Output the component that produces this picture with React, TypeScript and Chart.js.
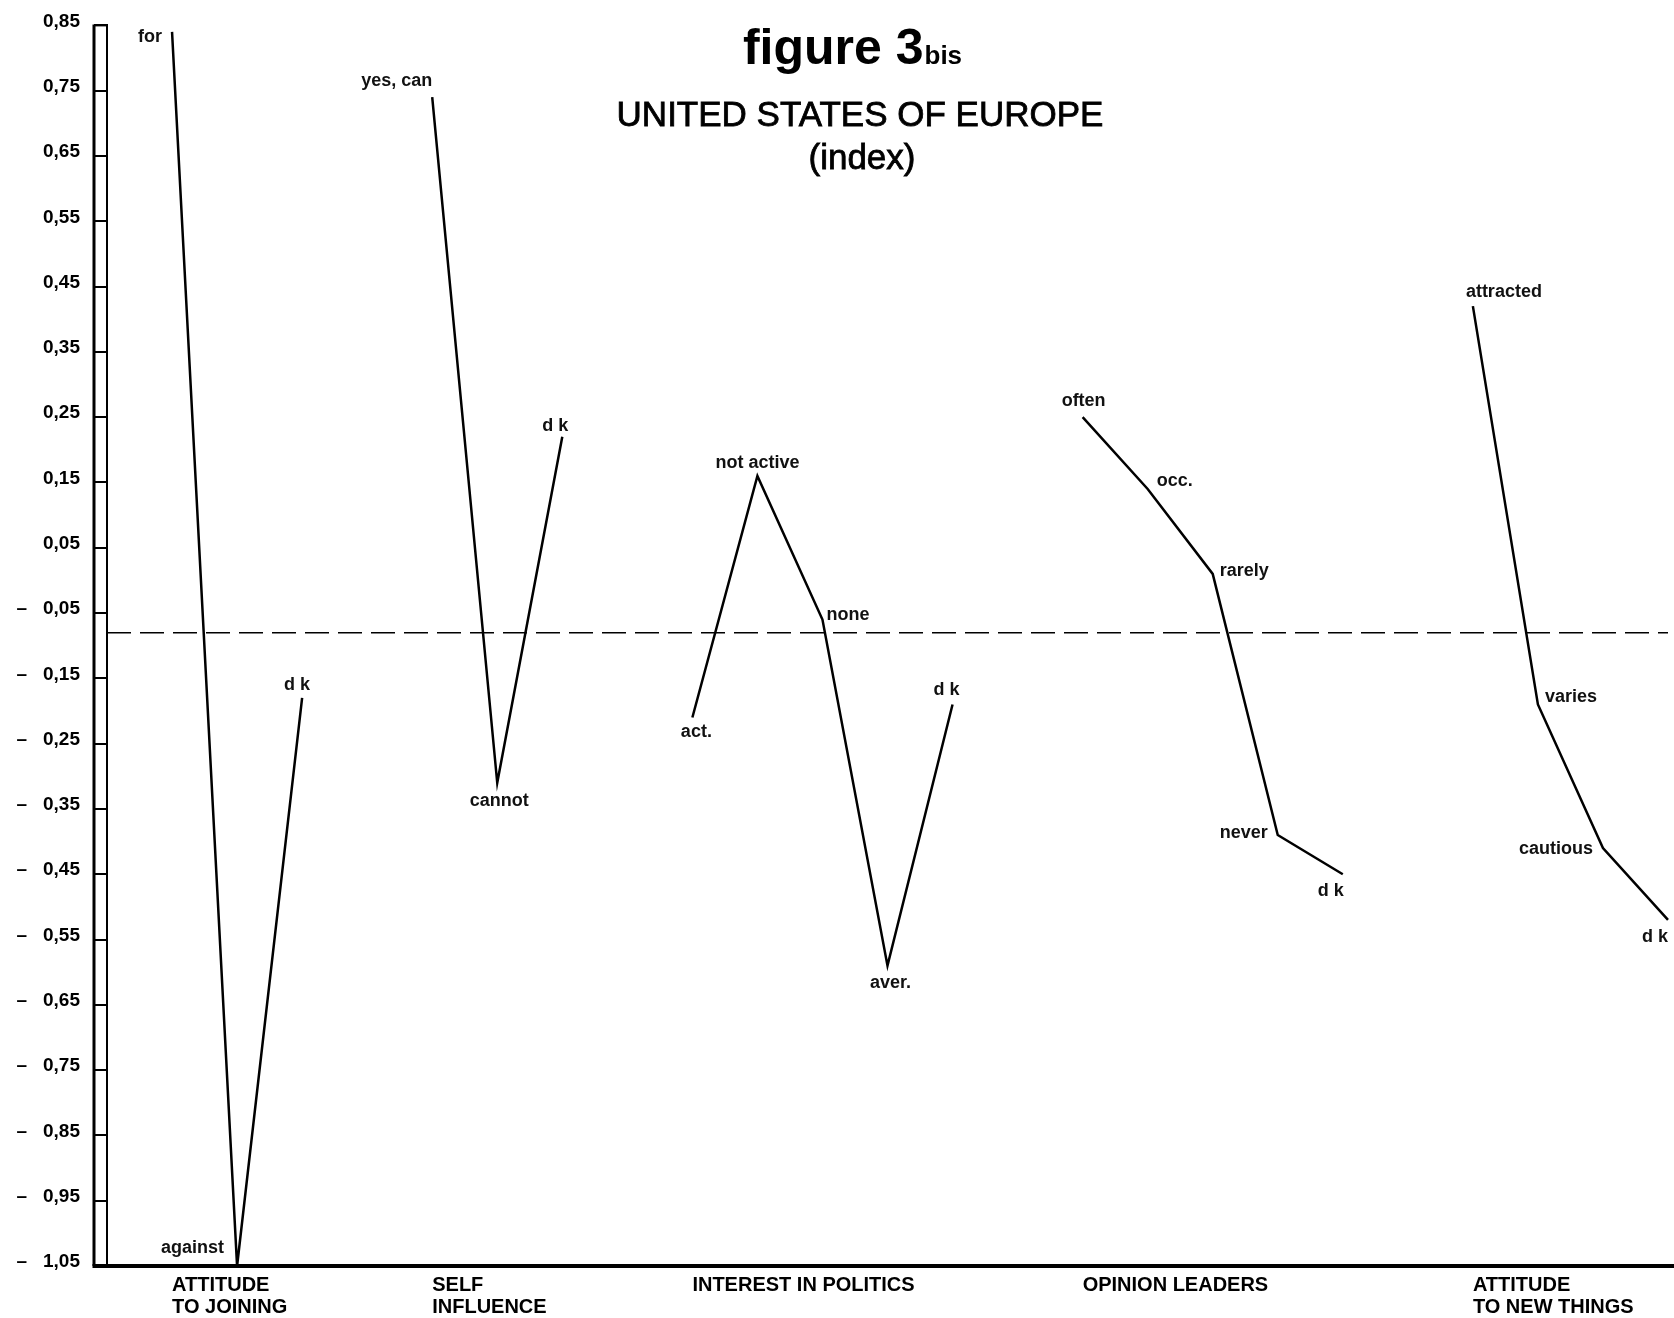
import React, { useEffect, useRef } from "react";
import { Chart, registerables } from "chart.js";

Chart.register(...registerables);

// ---------- data ----------
const yTickValues = [
  0.85, 0.75, 0.65, 0.55, 0.45, 0.35, 0.25, 0.15, 0.05, -0.05, -0.15, -0.25,
  -0.35, -0.45, -0.55, -0.65, -0.75, -0.85, -0.95, -1.05,
];

const groupNames = [
  ["ATTITUDE", "TO JOINING"],
  ["SELF", "INFLUENCE"],
  ["INTEREST IN POLITICS"],
  ["OPINION LEADERS"],
  ["ATTITUDE", "TO NEW THINGS"],
];
const groupStarts = [1, 5, 9, 15, 21];

const joiningLabels = ["for", "against", "d k"];
const joiningX = [1, 2, 3];
const joiningValues = [0.84, -1.05, -0.18];

const influenceLabels = ["yes, can", "cannot", "d k"];
const influenceX = [5, 6, 7];
const influenceValues = [0.74, -0.31, 0.22];

const politicsLabels = ["act.", "not active", "none", "aver.", "d k"];
const politicsX = [9, 10, 11, 12, 13];
const politicsValues = [-0.21, 0.16, -0.06, -0.59, -0.19];

const leadersLabels = ["often", "occ.", "rarely", "never", "d k"];
const leadersX = [15, 16, 17, 18, 19];
const leadersValues = [0.25, 0.14, 0.01, -0.39, -0.45];

const newThingsLabels = ["attracted", "varies", "cautious", "d k"];
const newThingsX = [21, 22, 23, 24];
const newThingsValues = [0.42, -0.19, -0.41, -0.52];

const referenceLevel = -0.08;
const xMin = 0;
const xMax = 24;

// ---------- styling (label placement per point: align, dx, dy) ----------
const labelPlacement: [string, number, number][][] = [
  [["right", -10, 5], ["right", -13, -18], ["center", -5, -13]],
  [["right", 0, -16], ["center", 2, 18], ["center", -7, -11]],
  [["center", 4, 15], ["center", 0, -13], ["left", 4, -5], ["center", 3, 17], ["center", -6, -14]],
  [["center", 1, -16], ["left", 9, -8], ["left", 7, -3], ["right", -10, -2], ["center", -12, 17]],
  [["left", -7, -14], ["left", 7, -7], ["right", -10, 1], ["center", -13, 17]],
];

const FONT = "'Liberation Sans', Arial, Helvetica, sans-serif";

const series = [
  { labels: joiningLabels, xs: joiningX, ys: joiningValues },
  { labels: influenceLabels, xs: influenceX, ys: influenceValues },
  { labels: politicsLabels, xs: politicsX, ys: politicsValues },
  { labels: leadersLabels, xs: leadersX, ys: leadersValues },
  { labels: newThingsLabels, xs: newThingsX, ys: newThingsValues },
];

const framePlugin = {
  id: "frame",
  afterDraw(chart: any) {
    const { ctx, chartArea } = chart;
    const { left, top, bottom } = chartArea;
    const barLeft = left - 13;
    ctx.save();
    ctx.strokeStyle = "#000";
    ctx.lineWidth = 3;
    ctx.beginPath();
    ctx.moveTo(barLeft, top - 1);
    ctx.lineTo(barLeft, bottom);
    ctx.stroke();
    ctx.lineWidth = 2;
    ctx.beginPath();
    ctx.moveTo(barLeft, top);
    ctx.lineTo(left, top);
    ctx.stroke();
    ctx.lineWidth = 4;
    ctx.beginPath();
    ctx.moveTo(barLeft - 1.5, bottom);
    ctx.lineTo(chart.width, bottom);
    ctx.stroke();
    ctx.restore();
  },
};

const pointLabelPlugin = {
  id: "pointLabels",
  afterDatasetsDraw(chart: any) {
    const { ctx } = chart;
    ctx.save();
    ctx.fillStyle = "#111";
    ctx.font = `bold 18px ${FONT}`;
    ctx.textBaseline = "middle";
    series.forEach((s, si) => {
      const meta = chart.getDatasetMeta(si);
      s.labels.forEach((lab, i) => {
        const el = meta.data[i];
        if (!el) return;
        const [align, dx, dy] = labelPlacement[si][i];
        ctx.textAlign = align;
        ctx.fillText(lab, el.x + dx, el.y + dy);
      });
    });
    ctx.restore();
  },
};

const titlePlugin = {
  id: "bigTitle",
  afterDraw(chart: any) {
    const { ctx } = chart;
    ctx.save();
    ctx.fillStyle = "#000";
    ctx.textBaseline = "alphabetic";
    // figure 3bis
    ctx.font = `bold 50px ${FONT}`;
    const w1 = ctx.measureText("figure 3").width;
    ctx.font = `bold 26px ${FONT}`;
    const w2 = ctx.measureText("bis").width;
    const startX = 852 - (w1 + w2) / 2;
    ctx.textAlign = "left";
    ctx.font = `bold 50px ${FONT}`;
    ctx.fillText("figure 3", startX, 64);
    ctx.font = `bold 26px ${FONT}`;
    ctx.fillText("bis", startX + w1 + 1, 64);
    // subtitle
    ctx.textAlign = "center";
    ctx.font = `35px ${FONT}`;
    ctx.strokeStyle = "#000";
    ctx.lineWidth = 0.8;
    ctx.fillText("UNITED STATES OF EUROPE", 860, 126);
    ctx.strokeText("UNITED STATES OF EUROPE", 860, 126);
    ctx.fillText("(index)", 862, 169);
    ctx.strokeText("(index)", 862, 169);
    ctx.restore();
  },
};

function formatTick(v: number) {
  const s = Math.abs(v).toFixed(2).replace(".", ",");
  return v < 0 ? "–   " + s : s;
}

export default function App() {
  const canvasRef = useRef<HTMLCanvasElement | null>(null);

  useEffect(() => {
    document.body.style.margin = "0";
    document.body.style.overflow = "hidden";
    const canvas = canvasRef.current;
    if (!canvas) return;

    const lineDatasets = series.map((s) => ({
      data: s.xs.map((x, i) => ({ x, y: s.ys[i] })),
      borderColor: "#000",
      borderWidth: 2.5,
      pointRadius: 0,
      tension: 0,
      fill: false,
      clip: false as any,
    }));

    const refDataset = {
      data: [
        { x: xMin, y: referenceLevel },
        { x: xMax, y: referenceLevel },
      ],
      borderColor: "#000",
      borderWidth: 1.5,
      borderDash: [24, 9],
      pointRadius: 0,
      fill: false,
      clip: false as any,
    };

    const chart = new Chart(canvas, {
      type: "line",
      data: { datasets: [...lineDatasets, refDataset] as any },
      options: {
        animation: false,
        responsive: false,
        maintainAspectRatio: false,
        layout: { padding: { top: 25, right: 6, bottom: 0, left: 0 } },
        plugins: {
          legend: { display: false },
          tooltip: { enabled: false },
          title: { display: false },
        },
        scales: {
          x: {
            type: "linear",
            min: xMin,
            max: xMax,
            grid: { display: false, drawTicks: false },
            border: { display: false },
            afterBuildTicks: (s: any) => {
              s.ticks = groupStarts.map((v) => ({ value: v }));
            },
            afterFit: (s: any) => {
              s.height = 52;
            },
            ticks: {
              autoSkip: false,
              maxRotation: 0,
              minRotation: 0,
              align: "start",
              padding: 8,
              color: "#000",
              font: { family: FONT, size: 20, weight: "bold", lineHeight: 1.1 },
              callback: (v: any) => {
                const i = groupStarts.indexOf(Number(v));
                return i >= 0 ? groupNames[i] : "";
              },
            },
          },
          y: {
            type: "linear",
            min: -1.05,
            max: 0.85,
            afterBuildTicks: (s: any) => {
              s.ticks = yTickValues.map((v) => ({ value: v }));
            },
            afterFit: (s: any) => {
              s.width = 107;
            },
            grid: {
              drawOnChartArea: false,
              drawTicks: true,
              tickLength: 13,
              lineWidth: 2,
              color: "#000",
            },
            border: { display: true, width: 2, color: "#000" },
            ticks: {
              autoSkip: false,
              padding: 14,
              labelOffset: -4,
              color: "#000",
              font: { family: FONT, size: 19, weight: "bold" },
              callback: (v: any) => formatTick(Number(v)),
            },
          },
        },
      } as any,
      plugins: [framePlugin, pointLabelPlugin, titlePlugin],
    });

    return () => chart.destroy();
  }, []);

  return (
    <div style={{ width: 1674, height: 1318, position: "relative", background: "#fff" }}>
      <canvas ref={canvasRef} width={1674} height={1318} style={{ display: "block" }} />
    </div>
  );
}
